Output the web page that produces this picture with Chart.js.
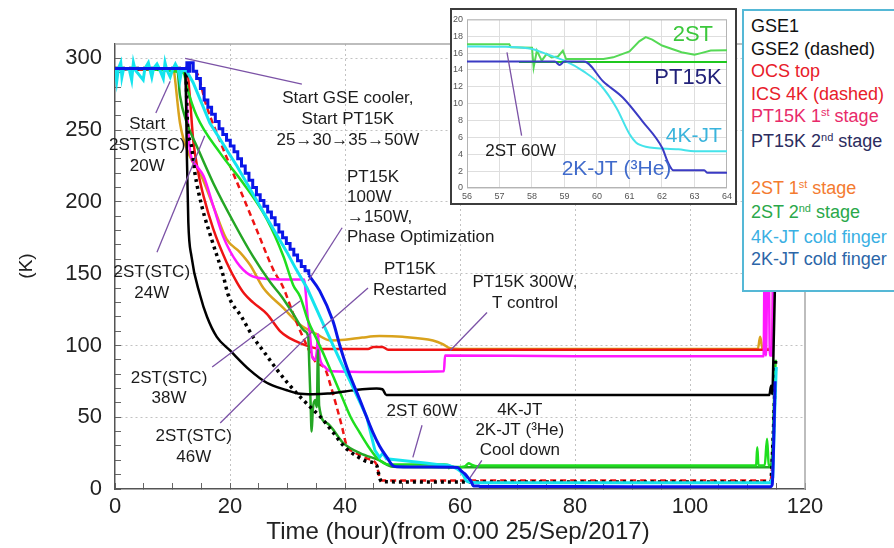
<!DOCTYPE html>
<html>
<head>
<meta charset="utf-8">
<title>Cooldown temperatures</title>
<script src="https://cdn.jsdelivr.net/npm/chart.js@4.4.1/dist/chart.umd.min.js"></script>
<style>
  html, body { margin: 0; padding: 0; background: #fff; }
  #wrap { position: relative; width: 894px; height: 548px; overflow: hidden;
          font-family: 'Liberation Sans', Arial, Helvetica, sans-serif; }
  #main { position: absolute; left: 0; top: 0; display: block; }
  #insetBox { position: absolute; left: 450px; top: 8px; width: 283px; height: 193px;
              border: 2px solid #3c3c3c; background: #fff; }
  #inset { display: block; }
  #legendBox { position: absolute; left: 742px; top: 9px; width: 170px; height: 283px;
               box-sizing: border-box; border: 2px solid #55b8d6; background: #fff;
               padding: 4px 0 0 7px; font-size: 18px; line-height: 22.5px; white-space: nowrap; }
  #legendBox .sup { font-size: 11px; position: relative; top: -6px; }
</style>
</head>
<body>
<div id="wrap">
  <canvas id="main" width="894" height="548"></canvas>
  <div id="insetBox"><canvas id="inset" width="283" height="193"></canvas></div>
  <div id="legendBox">
    <div style="color:#111">GSE1</div>
    <div style="color:#111">GSE2 (dashed)</div>
    <div style="color:#e8202a">OCS top</div>
    <div style="color:#e8202a">ICS 4K (dashed)</div>
    <div style="color:#e82a6a">PT15K 1<span class="sup">st</span> stage</div>
    <div style="color:#2c2c5e">PT15K 2<span class="sup">nd</span> stage</div>
    <div>&nbsp;</div>
    <div style="color:#f47b30">2ST 1<span class="sup">st</span> stage</div>
    <div style="color:#2aa84a">2ST 2<span class="sup">nd</span> stage</div>
    <div style="color:#3ab0e3">4K-JT cold finger</div>
    <div style="color:#2c66a8">2K-JT cold finger</div>
  </div>
</div>
<script>
const FONT = "'Liberation Sans', Arial, Helvetica, sans-serif";

// ---- main plot: hours since 0:00 25/Sep/2017 vs temperature (K) ----
const gse1Hour = [0, 12.2, 12.4, 12.5, 12.75, 13.3, 14.8, 16, 17.7, 20, 23.5, 26.4, 29.9, 31.8, 34.4, 37, 40, 43, 45.5, 46.5, 47.2, 60, 80, 100, 113.8, 114.1, 114.3, 114.6, 115.2];
const gse1K    = [293, 293, 260, 232, 186, 162, 135, 120, 106, 96.5, 82.6, 74, 68.8, 66.5, 66, 66.5, 68, 69.5, 70, 69.5, 65.5, 65.5, 65.5, 65.5, 65.5, 72, 66, 110, 220];

const gse2Hour = [0, 12.3, 12.6, 13.3, 13.9, 15.1, 16.8, 18.8, 19.7, 22, 24, 26, 28, 30, 32, 34, 36, 38, 40, 42, 44, 45.5, 46, 46.4, 80, 114, 114.5, 114.9];
const gse2K    = [293, 293, 255, 239, 220, 197, 174, 149, 135, 120, 106, 95, 84, 74, 65, 57, 49, 39, 29, 23, 19, 16.5, 8, 5, 4.8, 4.8, 40, 90];

const ocsHour = [0, 12.5, 13, 13.6, 14.5, 15.4, 17.1, 19.4, 21.2, 22.5, 24, 26.4, 28.7, 30, 32, 34, 36, 44, 45, 46.5, 47.5, 80, 114.2, 114.6, 115.2];
const ocsK    = [292, 292, 274, 243, 220, 204, 181, 158, 144, 136, 130, 122, 110, 106, 102, 99, 97.5, 97.5, 99, 99, 97, 97, 97, 140, 300];

const ics4kHour = [0, 12.5, 13, 14.2, 15.9, 18.8, 21.7, 24.6, 27.5, 29.3, 31, 33, 35, 36.5, 37.5, 38.5, 39.5, 40.3, 41.5, 44, 45.5, 46, 46.4, 80, 114, 114.5, 114.8];
const ics4kK    = [293, 293, 292, 290, 267, 237, 209, 181, 153, 140, 122, 103, 88, 84, 72, 58, 43, 30, 26, 21, 17, 8, 6, 6, 6, 35, 80];

const pt1Hour = [0, 12.2, 12.5, 13, 14.2, 15.4, 17.1, 18.8, 21.2, 23.5, 26, 30, 32.9, 33.1, 33.5, 33.9, 34.3, 34.8, 35.1, 35.3, 35.6, 36.5, 37.5, 45, 57.2, 57.4, 80, 112.8, 113, 113.2, 113.6, 113.9, 114.3, 114.6];
const pt1K    = [293, 293, 267, 237, 225, 218, 197, 176, 158, 149, 146.5, 146, 146, 140, 120, 108, 92, 90, 96, 108, 92, 85, 82, 81.5, 82, 93, 92.5, 92.5, 170, 93, 200, 93, 93, 260];

const st1Hour = [0, 10.2, 10.4, 11.3, 13, 14.8, 17.1, 19.4, 21.7, 23.5, 25.8, 29.3, 32, 34, 35, 37.4, 40, 43, 46, 50, 55.3, 57, 58.3, 60, 111.8, 112.2, 112.6, 113.8, 114.3, 114.6];
const st1K    = [293, 293, 287, 255, 232, 220, 197, 174, 165, 156, 140, 126, 115, 110, 108, 103.5, 104, 105.5, 106.5, 106, 103.5, 101, 98, 97.5, 97.5, 106, 98, 97.5, 100, 200];

const st2Hour = [0, 10.8, 11.3, 12.5, 14.2, 17.1, 20.6, 24, 27, 29, 31, 33, 33.6, 33.8, 34, 34.2, 34.4, 34.8, 35.1, 35.3, 35.5, 36.8, 39.7, 42.6, 46, 48.3, 60, 100, 114, 114.4, 114.8];
const st2K    = [293, 293, 274, 255, 239, 213, 186, 162, 144, 134, 122, 110, 106, 85, 62, 40, 55, 62, 57, 97, 58, 46, 32, 25, 20, 15.5, 15.2, 15.2, 15.2, 30, 70];

const st2bHour = [0, 11.9, 12.5, 14.2, 18.3, 22.3, 26.4, 29.3, 31, 32.2, 33.6, 35, 36.5, 38, 39.7, 41, 42.6, 44, 45.5, 47, 48, 57.3, 58, 58.05, 58.2, 58.4, 58.6, 59, 60.2, 60.5, 61, 61.5, 62, 63, 63.5, 64, 111.5, 111.7, 111.9, 113, 113.4, 113.7, 114.3, 114.6, 114.9];
const st2bK    = [293, 290, 280, 260, 234, 213, 188, 162, 142, 134, 117, 105, 92, 78, 62, 50, 39, 30, 22, 17.5, 17, 17, 16.6, 14.5, 16.2, 15.1, 15.6, 15.3, 15.3, 15.5, 16.2, 17.9, 16.9, 15.8, 16.3, 16.3, 16.3, 29, 16.3, 16.5, 35, 17, 16, 60, 90];

const jt4Hour = [0, 0.3, 0.6, 1.0, 1.2, 1.5, 2.5, 2.9, 3.2, 3.5, 4.9, 5.2, 5.8, 6.4, 6.7, 7.3, 7.8, 8.4, 8.7, 9.0, 9.6, 10.0, 10.5, 11.0, 11.3, 11.6, 12.5, 13.6, 16.5, 21.2, 25.8, 29.9, 31.5, 33.4, 36.2, 39.1, 40.9, 43.8, 45.2, 46.0, 46.6, 47.2, 49.6, 54.3, 56, 58, 58.5, 59, 59.6, 60.1, 60.6, 61, 61.2, 61.5, 62.5, 63, 90, 114, 114.4, 114.7, 115];
const jt4K    = [293, 284, 293, 297, 287, 293, 292, 285, 297, 292, 285, 293, 297, 287, 293, 296, 292, 286, 297, 292, 287, 292, 296, 292, 285, 292, 291, 283, 255, 225, 193, 165, 153, 140, 115, 90, 75, 50, 27, 22, 25, 21, 20, 18, 17, 16.6, 15.8, 15.1, 13.8, 12.25, 9.5, 6.4, 5.4, 4.9, 4.6, 4.4, 4.4, 4.4, 8, 50, 85];

// 2K-JT: stepped heater ramp, then free cooldown
const jt2StepHour = [0, 12.3, 12.5, 12.75, 13.0, 13.6, 14.2, 14.85, 15.5, 16.15, 16.8, 17.45, 18.1, 18.75, 19.4, 20.05, 20.7, 21.35, 22.0, 22.65, 23.3, 23.95, 24.6, 25.25, 25.9, 26.55, 27.2, 27.85, 28.5, 29.15, 29.8, 30.45, 31.1, 31.75, 32.4, 33.05, 33.7];
const jt2StepK    = [293, 293, 297, 291, 297, 291, 286, 279, 271, 266, 261, 256, 251, 247, 243, 239, 235, 230, 225, 220, 215, 210, 205, 201, 197, 193, 189, 184, 179, 175, 171, 167, 163, 159, 155, 152, 149];
const jt2Hour = [33.7, 35.6, 37.9, 39.1, 40.3, 42.6, 44.9, 46, 47.3, 48.2, 49, 55, 59.6, 60.2, 60.8, 61.4, 62, 62.2, 62.35, 63.3, 63.4, 80, 100, 114, 114.3, 114.6, 114.8];
const jt2K    = [149, 138, 117, 100, 85, 62, 39, 30, 22, 16.7, 15.5, 15.3, 15, 12.6, 10.7, 7.9, 4.8, 2.9, 2.1, 2.1, 1.8, 1.7, 1.6, 1.6, 3, 40, 75];

const xTickLabels = [0, 20, 40, 60, 80, 100, 120];
const yTickLabels = [0, 50, 100, 150, 200, 250, 300];

// ---- inset: 56-64 h zoom ----
const in2stHour = [56, 57.3, 57.35, 58, 58.05, 58.15, 58.3, 58.45, 58.6, 58.8, 58.95, 59.05, 60.2, 60.5, 61, 61.3, 61.5, 61.7, 62, 62.6, 63, 63.2, 63.5, 64];
const in2stK    = [17.05, 17.05, 16.7, 16.65, 14.3, 16.3, 15.1, 15.9, 15.5, 15.6, 16.3, 15.3, 15.3, 15.5, 16.2, 17.4, 17.9, 17.6, 16.9, 16.1, 15.8, 16.0, 16.3, 16.35];
const inPt15Hour = [57.6, 64];
const inPt15K    = [14.95, 14.95];
const in4kHour = [56, 57.2, 58, 58.5, 59, 59.6, 60.1, 60.6, 61, 61.2, 61.5, 62.5, 63, 64];
const in4kK    = [16.8, 16.75, 16.5, 15.8, 15.1, 13.8, 12.25, 9.5, 6.4, 5.4, 4.9, 4.6, 4.35, 4.35];
const in2kHour = [56, 58.7, 58.85, 59.0, 59.6, 60.2, 60.8, 61.4, 62.0, 62.2, 62.35, 63.3, 63.4, 64];
const in2kK    = [15, 15, 14.6, 15, 15, 12.6, 10.7, 7.9, 4.8, 2.9, 2.1, 2.1, 1.8, 1.8];

function pts(hours, kelvin) {
  return hours.map((h, i) => ({ x: h, y: kelvin[i] }));
}

function trace(label, hours, kelvin, color, width, extra) {
  return Object.assign({
    label: label,
    data: pts(hours, kelvin),
    borderColor: color,
    borderWidth: width,
    pointRadius: 0,
    fill: false,
    cubicInterpolationMode: 'monotone'
  }, extra || {});
}

// straight segments for the noisy traces
const RAW = { cubicInterpolationMode: 'default', tension: 0 };

// text + purple pointer lines, anchored in data units
const mainNotes = [
  { text: ['Start', '2ST(STC)', '20W'], at: [5.6, 254], gap: 21, from: [7.1, 262], to: [9.6, 284] },
  { text: ['2ST(STC)', '24W'], at: [6.4, 151], gap: 21, from: [7.3, 165], to: [15.6, 246] },
  { text: ['Start GSE cooler,', 'Start PT15K', '25\u219230\u219235\u219250W'], at: [40.5, 272], gap: 21, from: [32.5, 282], to: [12.2, 300] },
  { text: ['PT15K', '100W', '\u2192150W,', 'Phase Optimization'], at: [40.35, 217], gap: 20, align: 'left', from: [39.5, 182], to: [33.6, 145] },
  { text: ['PT15K', 'Restarted'], at: [51.3, 153], gap: 21, from: [44, 140], to: [36, 112] },
  { text: ['PT15K 300W,', 'T control'], at: [71.3, 144], gap: 21, from: [64.7, 123], to: [58.3, 96.5] },
  { text: ['2ST(STC)', '38W'], at: [9.4, 77], gap: 20, from: [16.9, 85], to: [32.2, 131] },
  { text: ['2ST(STC)', '46W'], at: [13.7, 37], gap: 21, from: [18.3, 46], to: [34.4, 110] },
  { text: ['2ST 60W'], at: [53.4, 54], from: [53.4, 44.4], to: [51.8, 22] },
  { text: ['4K-JT', '2K-JT (\u00b3He)', 'Cool down'], at: [70.4, 55], gap: 20, from: [63.8, 20], to: [61.7, 7.6] }
];

const insetNotes = [
  { text: ['2ST'], at: [62.95, 18.1], size: 22, color: '#3cc83c' },
  { text: ['PT15K'], at: [62.8, 13.0], size: 22, color: '#22227a' },
  { text: ['4K-JT'], at: [62.98, 6.1], size: 21, color: '#3ab4dc' },
  { text: ['2K-JT (\u00b3He)'], at: [60.6, 2.2], size: 21, color: '#3f6acb' },
  { text: ['2ST 60W'], at: [57.65, 4.3], size: 17, from: [57.23, 16.1], to: [57.68, 6.2] }
];

function notesPlugin(notes) {
  return {
    id: 'notes',
    afterDatasetsDraw(chart) {
      const { ctx, scales: { x, y } } = chart;
      ctx.save();
      notes.forEach(n => {
        if (n.from) {
          ctx.strokeStyle = '#7b52a6';
          ctx.lineWidth = 1.3;
          ctx.beginPath();
          ctx.moveTo(x.getPixelForValue(n.from[0]), y.getPixelForValue(n.from[1]));
          ctx.lineTo(x.getPixelForValue(n.to[0]), y.getPixelForValue(n.to[1]));
          ctx.stroke();
        }
        ctx.fillStyle = n.color || '#1c1c1c';
        ctx.font = (n.size || 17) + 'px ' + FONT;
        ctx.textAlign = n.align || 'center';
        ctx.textBaseline = 'middle';
        const px = x.getPixelForValue(n.at[0]);
        const py = y.getPixelForValue(n.at[1]);
        n.text.forEach((line, i) => ctx.fillText(line, px, py + i * (n.gap || 21)));
      });
      ctx.restore();
    }
  };
}

// light box round the plot area, axis titles
const mainFrame = {
  id: 'mainFrame',
  beforeDatasetsDraw(chart) {
    const { ctx, chartArea: a } = chart;
    ctx.save();
    ctx.strokeStyle = '#a8a8a8';
    ctx.lineWidth = 1.5;
    ctx.beginPath();
    ctx.moveTo(a.left, a.top);
    ctx.lineTo(a.right, a.top);
    ctx.lineTo(a.right, a.bottom);
    ctx.stroke();
    ctx.restore();
  },
  afterDraw(chart) {
    const { ctx } = chart;
    ctx.save();
    ctx.fillStyle = '#222';
    ctx.textAlign = 'center';
    ctx.textBaseline = 'middle';
    ctx.font = '24px ' + FONT;
    ctx.fillText('Time (hour)(from 0:00 25/Sep/2017)', 458, 532);
    ctx.translate(27, 266);
    ctx.rotate(-Math.PI / 2);
    ctx.font = '19px ' + FONT;
    ctx.fillText('(K)', 0, 0);
    ctx.restore();
  }
};

const insetFrame = {
  id: 'insetFrame',
  beforeDatasetsDraw(chart) {
    const { ctx, chartArea: a } = chart;
    ctx.save();
    ctx.strokeStyle = '#b4b4b4';
    ctx.lineWidth = 1;
    ctx.strokeRect(a.left + 0.5, a.top + 0.5, a.right - a.left - 1, a.bottom - a.top - 1);
    ctx.restore();
  }
};

const mainSets = [
  trace('2K-JT cold finger', jt2Hour, jt2K, '#0a16e8', 3),
  trace('2K-JT cold finger (ramp)', jt2StepHour, jt2StepK, '#0a16e8', 3, { stepped: 'before' }),
  trace('4K-JT cold finger', jt4Hour, jt4K, '#14e4ee', 3, RAW),
  trace('GSE1', gse1Hour, gse1K, '#000000', 2.5),
  trace('GSE2', gse2Hour, gse2K, '#000000', 3.5, { borderDash: [3, 4] }),
  trace('2ST 2nd stage (B)', st2bHour, st2bK, '#1ede1e', 2.5),
  trace('2ST 2nd stage', st2Hour, st2K, '#24a624', 2.5),
  trace('PT15K 1st stage', pt1Hour, pt1K, '#ff18ff', 2.5),
  trace('ICS 4K', ics4kHour, ics4kK, '#ee1414', 2.5, { borderDash: [6, 4] }),
  trace('OCS top', ocsHour, ocsK, '#ee1414', 2.5),
  trace('2ST 1st stage', st1Hour, st1K, '#d9a21c', 2.5)
];

new Chart(document.getElementById('main'), {
  type: 'line',
  data: { datasets: mainSets },
  options: {
    responsive: false,
    animation: false,
    devicePixelRatio: 1,
    layout: { padding: { top: 44, right: 89, left: 0, bottom: 0 } },
    plugins: { legend: { display: false }, tooltip: { enabled: false } },
    scales: {
      x: {
        type: 'linear', min: 0, max: 120,
        afterFit(s) { s.height = 59; },
        ticks: {
          stepSize: 5, autoSkip: false, maxRotation: 0, padding: 11,
          color: '#222', font: { size: 22, family: FONT },
          callback: v => xTickLabels.includes(v) ? String(v) : ''
        },
        grid: {
          color: c => (c.tick && c.tick.value % 20 === 0 && c.tick.value > 0 && c.tick.value < 120) ? '#c2c2c2' : 'rgba(0,0,0,0)',
          tickLength: -6, tickColor: '#666', tickWidth: 1
        },
        border: { color: '#555', width: 1.5, dash: [2, 3] }
      },
      y: {
        type: 'linear', min: 0, max: 310,
        afterFit(s) { s.width = 115; },
        ticks: {
          stepSize: 10, autoSkip: false, padding: 19,
          color: '#222', font: { size: 22, family: FONT },
          callback: v => yTickLabels.includes(v) ? String(v) : ''
        },
        grid: {
          color: c => (c.tick && c.tick.value % 50 === 0 && c.tick.value > 0) ? '#c2c2c2' : 'rgba(0,0,0,0)',
          tickLength: -6, tickColor: c => (c.tick && c.tick.value < 310) ? '#666' : 'rgba(0,0,0,0)', tickWidth: 1
        },
        border: { color: '#555', width: 1.5, dash: [2, 3] }
      }
    }
  },
  plugins: [mainFrame, notesPlugin(mainNotes)]
});

const insetSets = [
  trace('2K-JT (3He)', in2kHour, in2kK, '#3b3bc4', 2),
  trace('4K-JT', in4kHour, in4kK, '#45e3ea', 2),
  trace('PT15K', inPt15Hour, inPt15K, '#1fc81f', 2),
  trace('2ST', in2stHour, in2stK, '#55d955', 2, RAW)
];

new Chart(document.getElementById('inset'), {
  type: 'line',
  data: { datasets: insetSets },
  options: {
    responsive: false,
    animation: false,
    devicePixelRatio: 1,
    layout: { padding: { top: 7, right: 2, left: 0, bottom: 0 } },
    plugins: { legend: { display: false }, tooltip: { enabled: false } },
    scales: {
      x: {
        type: 'linear', min: 56, max: 64,
        afterFit(s) { s.height = 15; },
        ticks: { stepSize: 1, autoSkip: false, maxRotation: 0, padding: 3, color: '#555', font: { size: 9, family: FONT } },
        grid: { color: '#dedede', drawTicks: false },
        border: { display: false }
      },
      y: {
        type: 'linear', min: 0, max: 20,
        afterFit(s) { s.width = 15; },
        ticks: { stepSize: 2, autoSkip: false, padding: 4, color: '#555', font: { size: 9, family: FONT } },
        grid: { color: '#dedede', drawTicks: false },
        border: { display: false }
      }
    }
  },
  plugins: [insetFrame, notesPlugin(insetNotes)]
});
</script>
</body>
</html>
